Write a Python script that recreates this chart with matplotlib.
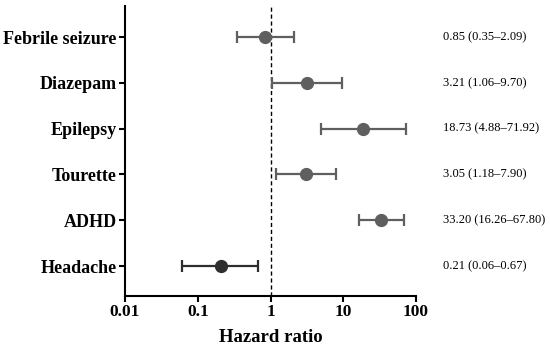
import matplotlib
matplotlib.use("Agg")
import matplotlib.pyplot as plt

labels = ["Febrile seizure", "Diazepam", "Epilepsy", "Tourette", "ADHD", "Headache"]
hr = [0.85, 3.21, 18.73, 3.05, 33.20, 0.21]
lo = [0.35, 1.06, 4.88, 1.18, 16.26, 0.06]
hi = [2.09, 9.70, 71.92, 7.90, 67.80, 0.67]
colors = ["#5f5f5f", "#5f5f5f", "#5f5f5f", "#5f5f5f", "#5f5f5f", "#2e2e2e"]
annots = ["0.85 (0.35–2.09)", "3.21 (1.06–9.70)", "18.73 (4.88–71.92)",
          "3.05 (1.18–7.90)", "33.20 (16.26–67.80)", "0.21 (0.06–0.67)"]
xticks = [0.01, 0.1, 1, 10, 100]
xticklabels = ["0.01", "0.1", "1", "10", "100"]

plt.rcParams['font.family'] = ['Liberation Serif', 'DejaVu Serif']

fig = plt.figure(figsize=(5.5, 3.51), dpi=100)
ax = fig.add_axes([125/550, 1-296/351, (416-125)/550, (296-6)/351])

n = len(labels)
ys = list(range(n, 0, -1))
for y, h, l, u, c in zip(ys, hr, lo, hi, colors):
    ax.errorbar(h, y, xerr=[[h - l], [u - h]], fmt='o', color=c, ecolor=c,
                markersize=8.5, elinewidth=1.6, capsize=4, capthick=1.6, zorder=3)

ax.axvline(1, color='black', linestyle=(0, (3, 2)), linewidth=1.0, zorder=1)

ax.set_xscale('log')
ax.set_xlim(0.01, 100)
ax.set_ylim(0.345, 6.68)
ax.set_xticks(xticks)
ax.set_xticklabels(xticklabels, fontsize=12.5, fontweight='bold')
ax.minorticks_off()
ax.set_yticks(ys)
ax.set_yticklabels(labels, fontsize=13, fontweight='bold')
ax.tick_params(axis='both', width=1.5, length=4, direction='out', pad=2)
ax.set_xlabel("Hazard ratio", fontsize=13.5, fontweight='bold', labelpad=6)

for s in ['top', 'right']:
    ax.spines[s].set_visible(False)
for s in ['left', 'bottom']:
    ax.spines[s].set_linewidth(1.5)

for y, t in zip(ys, annots):
    ax.annotate(t, xy=(1.0, y), xycoords=('axes fraction', 'data'),
                xytext=(443 - 416, 0), textcoords='offset pixels',
                fontsize=9, va='center', ha='left')

fig.savefig("out.png", dpi=100)
